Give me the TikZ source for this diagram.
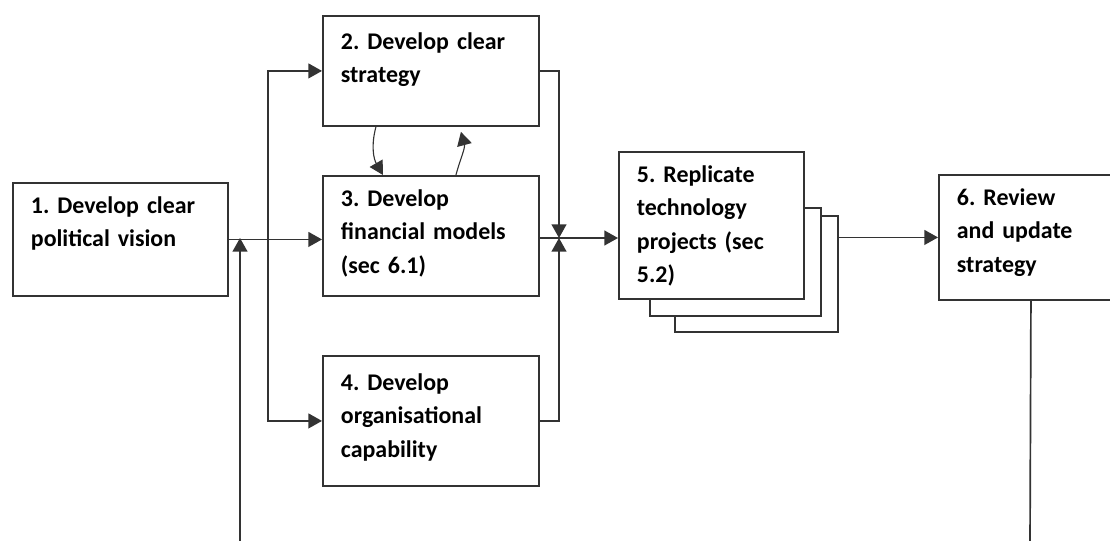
\documentclass[tikz,border=0pt]{standalone}
\usepackage{fontspec}
\setmainfont{Carlito}
\usetikzlibrary{arrows.meta}
\tikzset{
  korak/.style  = {rectangle, draw=black!80, line width=1.3pt, fill=white,
                   anchor=north west, align=left, text width=4.5cm,
                   inner xsep=0.45cm, inner ysep=0pt, text height=0.775cm,
                   font=\bfseries\fontsize{17}{23.5}\selectfont},
  kopija/.style = {rectangle, draw=black!80, line width=1.3pt, fill=white,
                   anchor=north west, inner sep=0pt},
  tok/.style    = {-{Triangle[length=0.34cm, width=0.37cm]}, draw=black!80,
                   line width=1.2pt},
  tokzak/.style = {tok, line width=0.8pt},
  linija/.style = {draw=black!80, line width=1.2pt},
}
\begin{document}
\begin{tikzpicture}[x=0.025cm, y=-0.025cm]
  \hyphenpenalty=10000 \exhyphenpenalty=10000 \frenchspacing
  \useasboundingbox (0,0) rectangle (1110,540);
  % --- koraci ---
  \node[korak, text width=4.475cm, text depth=2.05cm] at (12,182) (k1)
        {1. Develop clear\\political vision};
  \node[korak, text height=0.85cm, text depth=1.9cm] at (322,15) (k2)
        {2. Develop clear\\strategy};
  \node[korak, text depth=2.225cm] at (322,175) (k3)
        {3. Develop\\financial models\\(sec 6.1)};
  \node[korak, text height=0.875cm, text depth=2.375cm] at (322,355) (k4)
        {4. Develop\\organisational\\capability};

  % --- kopije iza koraka 5 ---
  \node[kopija, minimum width=4.075cm, minimum height=2.9cm] at (674,215) (k5c) {};
  \node[kopija, minimum width=4.275cm, minimum height=2.7cm] at (649,207) (k5b) {};
  \node[korak, text width=3.725cm, text depth=2.9cm] at (618,151) (k5)
        {5. Replicate\\technology\\projects (sec\\5.2)};
  \node[korak, text width=3.7cm, text depth=2.35cm] at (938,174) (k6)
        {6. Review\\and update\\strategy};

  % --- cvorovi na liniji ---
  \coordinate (j1) at (240,238);
  \coordinate (j0) at (268,238);
  \coordinate (j2) at (559,238);
  \coordinate (dno1) at (240,545);
  \coordinate (dno6) at (1030,545);

  \draw[tok] (k1.east) -- (k1.east -| k3.west);
  \draw[tok] (j0) |- (k2.west);
  \draw[tok] (j0) |- (k4.west);
  \draw[tok] (dno1) -- (j1);

  \draw[tok] (k2.east) -| (j2);
  \draw[tok] (k4.east) -| (j2);
  \draw[tok] (k3.east |- j2) -- (k5.west |- j2);

  \draw[tokzak] ([xshift=-1.375cm]k2.south) to[out=255, in=120] ([xshift=-1.2cm]k3.north);
  \draw[tokzak] ([xshift=0.625cm]k3.north) to[out=75, in=-75] ([xshift=0.75cm, yshift=-0.125cm]k2.south);

  \draw[tok] (k5c.east |- k6.west) -- (k6.west);
  \draw[linija] (k6.south) -- (dno6);
\end{tikzpicture}
\end{document}
